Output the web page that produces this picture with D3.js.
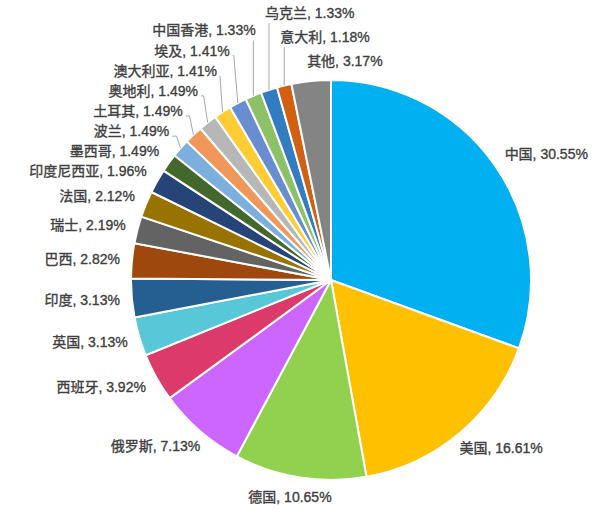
<!DOCTYPE html>
<html>
<head>
<meta charset="utf-8">
<script src="https://cdn.jsdelivr.net/npm/d3@7/dist/d3.min.js"></script>
<style>
    body { margin: 0; background: #fff; }
    text.label {
        font-family: "Liberation Sans", Arial, "Noto Sans CJK SC", sans-serif;
        font-size: 14px;
        fill: #404040;
        stroke: #404040;
        stroke-width: 0.35px;
    }
</style>
</head>
<body>
<svg id="chart" width="610" height="513"></svg>
<script>
'use strict';

// country names, clockwise from 12 o'clock
const countries = ['中国', '美国', '德国', '俄罗斯', '西班牙', '英国', '印度', '巴西', '瑞士', '法国',
    '印度尼西亚', '墨西哥', '波兰', '土耳其', '奥地利', '澳大利亚', '埃及', '中国香港', '乌克兰', '意大利', '其他'];

// share in percent
const shares = [30.55, 16.61, 10.65, 7.13, 3.92, 3.13, 3.13, 2.82, 2.19, 2.12,
    1.96, 1.49, 1.49, 1.49, 1.49, 1.41, 1.41, 1.33, 1.33, 1.18, 3.17];

const colors = ['#00b0f0', '#ffc000', '#92d050', '#cc66ff', '#dc3a6b', '#58c7d8', '#255e91', '#9e480e',
    '#636363', '#997300', '#264478', '#43682b', '#7cafdd', '#f1975a', '#b7b7b7', '#ffcd33', '#698ed0',
    '#8cc168', '#327dc2', '#d26012', '#848484'];

const cx = 331, cy = 280, radius = 200;
const labelRadius = 212;
const labelHeight = 16;
const topLimit = 2 * Math.PI * 340 / 360;

const svg = d3.select('#chart');
const g = svg.append('g').attr('transform', `translate(${cx},${cy})`);

const pie = d3.pie().sort(null).value((d, i) => shares[i]);
const arcs = pie(countries);
const arc = d3.arc().innerRadius(0).outerRadius(radius);

g.selectAll('path.slice')
    .data(arcs)
    .enter().append('path')
    .attr('class', 'slice')
    .attr('d', arc)
    .attr('fill', (d, i) => colors[i])
    .attr('stroke', '#fff')
    .attr('stroke-width', 2);

const labels = arcs.map((d, i) => {
    let a = (d.startAngle + d.endAngle) / 2;
    return {
        i, a,
        s: Math.sin(a),
        c: Math.cos(a),
        text: countries[i] + ', ' + shares[i].toFixed(2) + '%'
    };
});

const linesG = g.append('g');

let texts = g.selectAll('text.label')
    .data(labels)
    .enter().append('text')
    .attr('class', 'label')
    .attr('text-anchor', 'middle')
    .attr('dy', '0.35em')
    .text(d => d.text);

texts.each(function (d) {
    d.w = this.getComputedTextLength();
    d.h = labelHeight;
    // default outside-end spot
    d.nx = labelRadius * d.s + d.w / 2 * Math.sign(d.s) * Math.min(1, Math.abs(d.s) * 1.25);
    d.ny = -labelRadius * d.c - d.h / 2 * d.c;
    d.x = d.nx;
    d.y = d.ny;
});

const overlaps = (p, q) =>
    Math.abs(p.x - q.x) < (p.w + q.w) / 2 + 2 && Math.abs(p.y - q.y) < (p.h + q.h) / 2 + 4;

let placed = [];

// right half keeps the default spot
labels.filter(d => d.a <= Math.PI).forEach(d => placed.push(d));

// labels near the top: text starts at the slice edge, stacked upwards
let prevY = null;
labels.filter(d => d.a > topLimit)
    .sort((p, q) => q.a - p.a)
    .forEach(d => {
        d.x = radius * d.s - 4 + d.w / 2;
        d.y = prevY === null ? d.ny : Math.min(d.ny, prevY - 24);
        prevY = d.y;
        placed.push(d);
    });

// left side: walk clockwise, push each label outwards until it is free
labels.filter(d => d.a > Math.PI && d.a <= topLimit)
    .sort((p, q) => p.a - q.a)
    .forEach(d => {
        let t = 0;
        while (placed.some(q => overlaps(d, q)) && t < 200) {
            t += 0.25;
            d.x = d.nx + t * d.s;
            d.y = d.ny - t * d.c;
        }
        placed.push(d);
    });

texts.attr('x', d => d.x).attr('y', d => d.y);

// leader lines for labels that were moved away
labels.forEach(d => {
    let moved = Math.hypot(d.x - d.nx, d.y - d.ny) > 0.1;
    if (d.a > topLimit) moved = Math.abs(d.y - d.ny) > 0.1;
    if (!moved) return;

    let ax = radius * d.s, ay = -radius * d.c;
    let left = d.x - d.w / 2, right = d.x + d.w / 2, bottom = d.y + d.h / 2;
    let pts;

    if (ax >= left && ax <= right) {
        pts = [[ax, bottom + 2], [ax, ay]];
    } else if (right < ax) {
        let ly = d.y + 5;
        pts = [[right + 3, ly]];
        if (ax - 4 > right + 3) pts.push([ax - 4, ly]);
        pts.push([ax, ay]);
    } else {
        let ly = d.y + 5;
        pts = [[left - 3, ly]];
        if (ax + 4 < left - 3) pts.push([ax + 4, ly]);
        pts.push([ax, ay]);
    }

    linesG.append('path')
        .attr('d', d3.line()(pts))
        .attr('fill', 'none')
        .attr('stroke', '#a6a6a6')
        .attr('stroke-width', 1);
});
</script>
</body>
</html>
